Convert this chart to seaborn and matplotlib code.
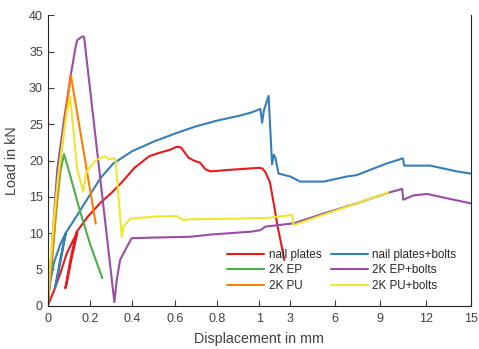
import numpy as np
import pandas as pd
import matplotlib
matplotlib.use('Agg')
import matplotlib.pyplot as plt
import seaborn as sns

# Series (displacement in mm, load in kN)
series_names = ['nail plates', 'nail plates+bolts', '2K EP', '2K EP+bolts', '2K PU', '2K PU+bolts']

nail_x = [0, 0.03, 0.06, 0.09, 0.12, 0.14, 0.115, 0.088, 0.083, 0.105, 0.135, 0.19, 0.25, 0.30, 0.35,
          0.41, 0.48, 0.52, 0.58, 0.61, 0.63, 0.665, 0.69, 0.72, 0.745, 0.77, 0.85, 0.95, 1.0,
          1.2, 1.4, 1.7, 2.0, 2.2, 2.4, 2.65]
nail_y = [0, 2.1, 4.5, 7.2, 9.0, 10.0, 6.8, 2.8, 2.4, 6.0, 10.1, 12.3, 14.2, 15.5, 17.0,
          19.0, 20.6, 21.0, 21.5, 21.9, 21.8, 20.4, 20.0, 19.7, 18.8, 18.5, 18.7, 18.9, 19.0,
          18.9, 18.4, 17.0, 13.5, 11.0, 9.0, 6.3]

bolts_x = [0, 0.01, 0.03, 0.06, 0.085, 0.06, 0.035, 0.06, 0.085, 0.14, 0.20, 0.25, 0.31, 0.40,
           0.50, 0.60, 0.70, 0.80, 0.91, 0.96, 1.07, 1.18, 1.3, 1.61, 1.84, 1.95, 2.06, 2.27,
           3.05, 3.7, 5.25, 6.8, 7.45, 9.43, 10.5, 10.58, 12.3, 14.07, 15.0]
bolts_y = [0, 3.0, 6.0, 8.5, 10.0, 6.0, 2.5, 6.5, 10.0, 12.5, 15.3, 17.6, 19.6, 21.3,
           22.6, 23.7, 24.7, 25.5, 26.2, 26.6, 27.1, 25.2, 26.9, 28.9, 19.5, 20.8, 20.4, 18.2,
           17.8, 17.1, 17.1, 17.8, 18.0, 19.6, 20.3, 19.3, 19.3, 18.5, 18.2]

ep_x = [0, 0.02, 0.04, 0.06, 0.077, 0.10, 0.15, 0.20, 0.258]
ep_y = [0, 6.0, 13.0, 18.5, 20.9, 18.6, 13.3, 8.5, 3.8]

epb_x = [0, 0.01, 0.045, 0.077, 0.109, 0.132, 0.14, 0.164, 0.172, 0.315, 0.326, 0.342, 0.374,
         0.397, 0.516, 0.673, 0.768, 0.91, 0.96, 1.07, 1.4, 3.27, 5.25, 7.45, 9.43, 10.45,
         10.52, 11.2, 12.1, 13.4, 15.0]
epb_y = [0, 4.0, 18.7, 25.6, 31.8, 35.7, 36.6, 37.1, 37.0, 0.5, 3.5, 6.3, 8.1,
         9.3, 9.4, 9.5, 9.8, 10.1, 10.2, 10.4, 10.9, 11.35, 12.7, 14.1, 15.5, 16.1,
         14.6, 15.2, 15.4, 14.8, 14.1]

pu_x = [0, 0.03, 0.06, 0.09, 0.109, 0.227]
pu_y = [0, 10.0, 20.0, 27.5, 31.8, 11.3]

pub_x = [0, 0.01, 0.03, 0.05, 0.07, 0.09, 0.106, 0.14, 0.168, 0.18, 0.20, 0.23, 0.27, 0.29,
         0.31, 0.32, 0.35, 0.358, 0.39, 0.515, 0.61, 0.64, 0.67, 0.77, 0.91, 1.5, 3.16, 3.27,
         5.47, 7.45, 9.5]
pub_y = [0, 5.0, 12.0, 18.0, 22.5, 26.5, 28.8, 18.7, 15.7, 18.2, 19.1, 20.1, 20.6, 20.2,
         20.3, 20.2, 9.5, 10.9, 12.0, 12.3, 12.35, 11.8, 11.9, 11.95, 12.0, 12.1, 12.5, 11.1,
         12.7, 14.1, 15.6]

x_data = [nail_x, bolts_x, ep_x, epb_x, pu_x, pub_x]
y_data = [nail_y, bolts_y, ep_y, epb_y, pu_y, pub_y]

colors = ['#E41A1C', '#377EB8', '#4DAF4A', '#984EA3', '#FF7F00', '#F0E530']

x_ticks = [0, 0.2, 0.4, 0.6, 0.8, 1, 3, 6, 9, 12, 15]
x_tick_labels = ['0', '0.2', '0.4', '0.6', '0.8', '1', '3', '6', '9', '12', '15']
y_ticks = [0, 5, 10, 15, 20, 25, 30, 35, 40]

rows = []
for name, xs, ys in zip(series_names, x_data, y_data):
    for i, (xv, yv) in enumerate(zip(xs, ys)):
        rows.append({'series': name, 'order': i, 'disp': xv, 'load': yv})
df = pd.DataFrame(rows)

sns.set_style('white')
plt.rcParams['font.family'] = ['Liberation Sans', 'DejaVu Sans']


# piecewise axis: 0-1 mm on the left half, 1-15 mm on the right half
def fwd(x):
    x = np.asarray(x, dtype=float)
    return np.where(x <= 1, x, 1 + (x - 1) / 14.0)


def inv(u):
    u = np.asarray(u, dtype=float)
    return np.where(u <= 1, u, 1 + (u - 1) * 14.0)


fig = plt.figure(figsize=(4.79, 3.49), dpi=100)
ax = fig.add_axes([0.0996, 0.124, 0.8837, 0.832])
ax.set_xscale('function', functions=(fwd, inv))

sns.lineplot(data=df, x='disp', y='load', hue='series', hue_order=series_names,
             palette=colors, sort=False, estimator=None, lw=1.5, ax=ax)
# the EP+bolts trace is noisy in the original, so it reads a bit thicker
for line in ax.get_lines():
    if line.get_label() == '2K EP+bolts':
        line.set_linewidth(1.9)

ax.set_xlim(0, 15)
ax.set_ylim(0, 40)
ax.set_xticks(x_ticks)
ax.set_xticklabels(x_tick_labels)
ax.set_yticks(y_ticks)
ax.minorticks_off()

ax.set_xlabel('Displacement in mm', fontsize=10.3, color='#404040', labelpad=5)
ax.set_ylabel('Load in kN', fontsize=10.3, color='#404040', labelpad=7)
ax.tick_params(direction='in', length=4, width=0.8, colors='#404040', labelsize=9,
               bottom=True, left=True, top=False, right=False)
ax.tick_params(axis='x', pad=5)
for side in ['left', 'bottom', 'right']:
    ax.spines[side].set_color('#262626')
    ax.spines[side].set_linewidth(0.8)
ax.spines['top'].set_visible(False)

# legend filled column-wise, so reorder entries
handles, labels = ax.get_legend_handles_labels()
lut = dict(zip(labels, handles))
order = ['nail plates', '2K EP', '2K PU', 'nail plates+bolts', '2K EP+bolts', '2K PU+bolts']
leg = ax.legend([lut[k] for k in order], order, ncol=2, frameon=False, fontsize=8.4,
                loc='lower right', bbox_to_anchor=(0.984, 0.02), handlelength=3.2,
                handletextpad=0.35, columnspacing=0.8, labelspacing=0.3, borderpad=0.2,
                labelcolor='#262626')
for h in leg.legend_handles:
    h.set_linewidth(1.5)

fig.savefig('out.png', dpi=100)
